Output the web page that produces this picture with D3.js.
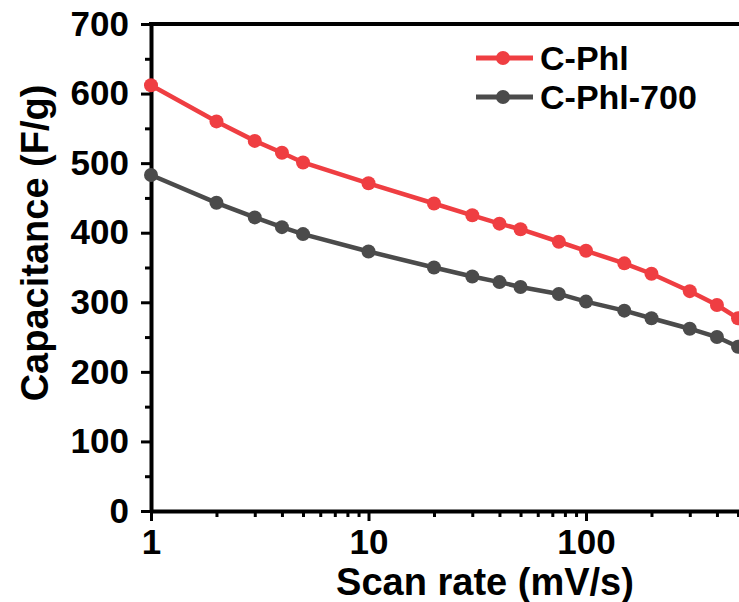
<!DOCTYPE html>
<html lang="en">
<head>
  <meta charset="UTF-8">
  <title>Capacitance vs scan rate</title>
  <script src="https://d3js.org/d3.v7.min.js"></script>
  <style>
    body { margin: 0; background: #fff; }
    svg { font-family: "Liberation Sans", Arial, sans-serif; font-weight: bold; }
    .axis text { font-size: 35px; font-weight: bold; fill: #000; }
    .axis path, .axis line { stroke: #000; }
    .series-line { fill: none; stroke-width: 4.5px; }
  </style>
</head>
<body>
  <svg></svg>
  <script>
    const scanRates = [1, 2, 3, 4, 5, 10, 20, 30, 40, 50, 75, 100, 150, 200, 300, 400, 500];
    const cPhl = [612, 560, 532, 515, 501, 471, 442, 425, 413, 405, 387, 374, 356, 341, 316, 296, 277];
    const cPhl700 = [483, 443, 422, 408, 398, 373, 350, 337, 329, 322, 312, 301, 288, 277, 262, 250, 236];
    const seriesNames = ['C-Phl', 'C-Phl-700'];
    const seriesColors = ['#ef3e42', '#4b4b4b'];
    const xTicks = [1, 10, 100];
    const yTicks = [0, 100, 200, 300, 400, 500, 600, 700];

    const W = 739, H = 602;
    const plotLeft = 151, plotTop = 24, plotBottom = 511;
    const svg = d3.select('svg').attr('width', W).attr('height', H);

    // log axis runs past the right edge of the picture (cropped like the original)
    const x = d3.scaleLog().domain([1, 1000]).range([plotLeft, plotLeft + 3 * 217.5]);
    const y = d3.scaleLinear().domain([0, 700]).range([plotBottom, plotTop]);

    const xMinor = [];
    [1, 10, 100].forEach(d => { for (let k = 2; k <= 9; k++) xMinor.push(d * k); });
    const yMinor = d3.range(50, 700, 100);

    // minor ticks
    svg.append('g').attr('class', 'axis')
      .attr('transform', `translate(0,${plotBottom})`)
      .call(d3.axisBottom(x).tickValues(xMinor).tickSize(6).tickFormat(''))
      .call(g => g.select('.domain').remove())
      .selectAll('line').attr('stroke-width', 3);
    svg.append('g').attr('class', 'axis')
      .attr('transform', `translate(${plotLeft},0)`)
      .call(d3.axisLeft(y).tickValues(yMinor).tickSize(6).tickFormat(''))
      .call(g => g.select('.domain').remove())
      .selectAll('line').attr('stroke-width', 3);

    // major axes
    const xAxis = svg.append('g').attr('class', 'axis')
      .attr('transform', `translate(0,${plotBottom})`)
      .call(d3.axisBottom(x).tickValues(xTicks).tickSize(10).tickSizeOuter(0).tickPadding(8).tickFormat(d3.format('d')));
    xAxis.select('.domain').attr('stroke-width', 4);
    xAxis.selectAll('line').attr('stroke-width', 3);

    const yAxis = svg.append('g').attr('class', 'axis')
      .attr('transform', `translate(${plotLeft},0)`)
      .call(d3.axisLeft(y).tickValues(yTicks).tickSize(10).tickSizeOuter(0).tickPadding(12));
    yAxis.select('.domain').attr('stroke-width', 4);
    yAxis.selectAll('line').attr('stroke-width', 3);

    // top frame line
    svg.append('line')
      .attr('x1', plotLeft - 2).attr('x2', W)
      .attr('y1', plotTop).attr('y2', plotTop)
      .attr('stroke', '#000').attr('stroke-width', 4);

    const series = [cPhl, cPhl700].map((vals, i) => ({
      name: seriesNames[i],
      color: seriesColors[i],
      values: scanRates.map((r, j) => ({ rate: r, cap: vals[j] }))
    }));

    const line = d3.line().x(d => x(d.rate)).y(d => y(d.cap));
    series.forEach(s => {
      svg.append('path')
        .attr('class', 'series-line')
        .attr('d', line(s.values))
        .attr('stroke', s.color);
      svg.selectAll(null)
        .data(s.values)
        .enter().append('circle')
        .attr('cx', d => x(d.rate))
        .attr('cy', d => y(d.cap))
        .attr('r', 7)
        .attr('fill', s.color);
    });

    // legend
    const legend = svg.append('g').attr('transform', 'translate(476,58)');
    series.forEach((s, i) => {
      const g = legend.append('g').attr('transform', `translate(0,${i * 39})`);
      g.append('line').attr('x1', 0).attr('x2', 57).attr('y1', 0).attr('y2', 0)
        .attr('stroke', s.color).attr('stroke-width', 5);
      g.append('circle').attr('cx', 27).attr('cy', 0).attr('r', 7).attr('fill', s.color);
      g.append('text').attr('x', 64).attr('y', 12)
        .attr('font-size', '34px').attr('fill', '#000')
        .text(s.name);
    });

    // axis titles
    svg.append('text')
      .attr('x', 485).attr('y', 595)
      .attr('text-anchor', 'middle')
      .attr('font-size', '38px')
      .text('Scan rate (mV/s)');
    svg.append('text')
      .attr('transform', 'translate(48,243) rotate(-90)')
      .attr('text-anchor', 'middle')
      .attr('font-size', '38px')
      .text('Capacitance (F/g)');
  </script>
</body>
</html>
